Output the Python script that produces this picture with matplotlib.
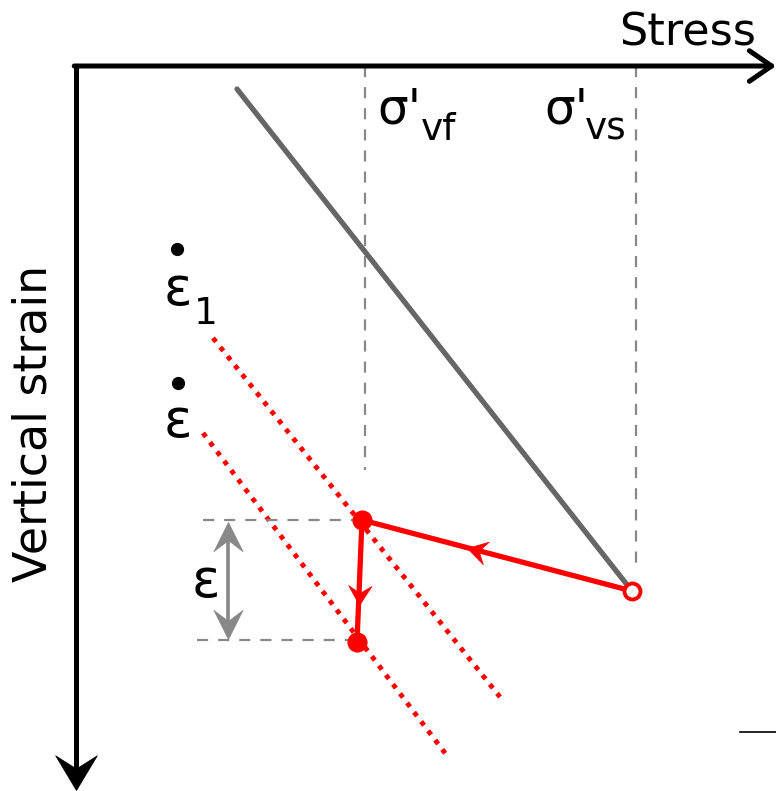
import numpy as np
import matplotlib
matplotlib.use("Agg")
import matplotlib.pyplot as plt
from matplotlib.path import Path
from matplotlib.markers import MarkerStyle
from matplotlib.transforms import Affine2D

plt.rcParams['font.family'] = ['DejaVu Sans']

# Schematic coordinates: stress to the right, vertical strain downwards
# (origin at the corner of the two axes).
ncl_stress = [161, 552]          # normal compression line (grey)
ncl_strain = [23, 520]

sigma_vf = 289                   # final effective vertical stress
sigma_vs = 560                   # start effective vertical stress
sigma_vf_guide_end = 404
sigma_vs_guide_end = 499

iso1_stress = [137, 424]         # creep-rate isoline, eps-dot 1
iso1_strain = [272, 631]
iso2_stress = [127, 372]         # creep-rate isoline, eps-dot
iso2_strain = [367, 691]

path_stress = [556, 286, 281]    # stress path: start -> unloaded -> after creep
path_strain = [525, 454, 576]

delta_x = 152                    # strain-increment dimension arrow
guide_left = [127, 121]

x_max, y_max = 700, 725

fig = plt.figure(figsize=(7.76, 7.91), dpi=100)
ax = fig.add_axes([0, 0, 1, 1])
ax.set_xlim(-76, 700)
ax.set_ylim(725, -66)
ax.axis('off')

black = '#000000'
grey = '#666666'
guide = '#888888'
red = '#ff0000'


def stealth_path(half_width=0.6):
    verts = [(0, 0), (-1, half_width), (-0.62, 0), (-1, -half_width), (0, 0)]
    codes = [Path.MOVETO, Path.LINETO, Path.LINETO, Path.LINETO, Path.CLOSEPOLY]
    return Path(verts, codes)


def head(x, y, direction, size, color, half_width=0.6):
    """Stealth arrow head with its tip at (x, y), pointing along direction (data)."""
    d0 = ax.transData.transform((x, y))
    d1 = ax.transData.transform((x + direction[0], y + direction[1]))
    ang = np.degrees(np.arctan2(d1[1] - d0[1], d1[0] - d0[0]))
    m = MarkerStyle(stealth_path(half_width), transform=Affine2D().rotate_deg(ang))
    ax.plot([x], [y], marker=m, ms=size, color=color, mec=color, mew=0.5,
            ls='none', clip_on=False, zorder=4)


fig.canvas.draw()

# Axes with arrows
ax.annotate('', xy=(x_max, 0), xytext=(-1.8, 0),
            arrowprops=dict(arrowstyle='->,head_length=0.8,head_width=0.55',
                            lw=3.6, color=black, shrinkA=0, shrinkB=0,
                            mutation_scale=20), annotation_clip=False)
ax.plot([0, 0], [-1.8, y_max - 12], color=black, lw=3.6, solid_capstyle='butt')
head(0, y_max - 1, (0, 1), 50, black)
ax.plot([664, 700], [666, 666], color=black, lw=1.2, clip_on=False)

ax.text(543, -21, 'Stress', fontsize=32, ha='left', va='baseline')
ax.text(-42, 357, 'Vertical strain', fontsize=33, rotation=90,
        ha='center', va='center')

# Stress guides
dash = (0, (5, 4.5))
ax.plot([sigma_vf, sigma_vf], [0, sigma_vf_guide_end], color=guide, lw=1.6, ls=dash)
ax.plot([sigma_vs, sigma_vs], [0, sigma_vs_guide_end], color=guide, lw=1.6, ls=dash)
ax.text(301, 57, "σ'", fontsize=35, ha='left', va='baseline')
ax.text(345, 74, 'vf', fontsize=27, ha='left', va='baseline')
ax.text(468, 57, "σ'", fontsize=35, ha='left', va='baseline')
ax.text(509, 74, 'vs', fontsize=27, ha='left', va='baseline')

# Normal compression line
ax.plot(ncl_stress, ncl_strain, color=grey, lw=3.8, solid_capstyle='round')

# Creep isolines
dot = (0, (1, 1.4))
ax.plot(iso1_stress, iso1_strain, color=red, lw=3.5, ls=dot)
ax.plot(iso2_stress, iso2_strain, color=red, lw=3.5, ls=dot)
ax.plot([101], [183], 'o', color=black, ms=8.5)
ax.text(88, 239, 'ε', fontsize=38, ha='left', va='baseline')
ax.text(118, 258, '1', fontsize=27, ha='left', va='baseline')
ax.plot([102], [317], 'o', color=black, ms=8.5)
ax.text(88, 371, 'ε', fontsize=38, ha='left', va='baseline')

# Strain increment guides
ax.plot([guide_left[0], path_stress[1]], [path_strain[1], path_strain[1]],
        color=guide, lw=1.6, ls=dash)
ax.plot([guide_left[1], path_stress[2]], [path_strain[2] - 2, path_strain[2] - 2],
        color=guide, lw=1.6, ls=dash)
ax.plot([delta_x, delta_x], [path_strain[1] + 14, path_strain[2] - 16],
        color=guide, lw=2.6, solid_capstyle='butt')
head(delta_x, path_strain[1] + 2, (0, -1), 42, guide, 0.5)
head(delta_x, path_strain[2] - 3, (0, 1), 42, guide, 0.5)
ax.text(116, 531, 'ε', fontsize=38, ha='left', va='baseline')

# Stress path
ax.plot(path_stress, path_strain, color=red, lw=3.8, solid_joinstyle='round')
for i, frac in ((0, 0.61), (1, 0.70)):
    dx = path_stress[i + 1] - path_stress[i]
    dy = path_strain[i + 1] - path_strain[i]
    head(path_stress[i] + frac * dx, path_strain[i] + frac * dy, (dx, dy), 28, red)

ax.plot(path_stress[1:], path_strain[1:], 'o', color=red, ms=13.5, zorder=5)
ax.plot([path_stress[0]], [path_strain[0]], 'o', mfc='white', mec=red,
        mew=2.8, ms=11.5, zorder=5)

fig.savefig('out.png', dpi=100)
